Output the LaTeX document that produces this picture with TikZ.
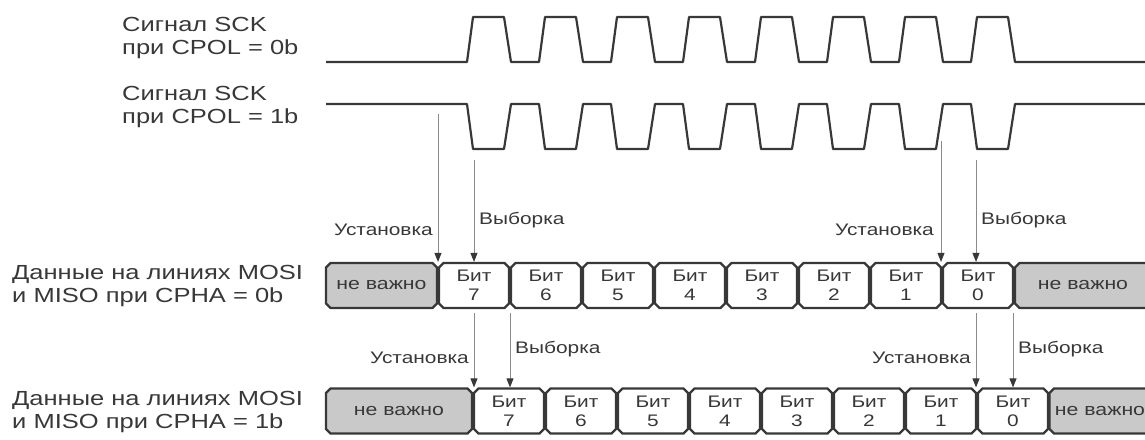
\documentclass[tikz,border=0pt]{standalone}
\usepackage{fontspec}
\setmainfont{Liberation Sans}[FakeStretch=1.25]
\usetikzlibrary{arrows.meta,shapes.misc}

\definecolor{ink}{HTML}{383838}
\definecolor{wire}{HTML}{8A8A8A}
\definecolor{dontcare}{HTML}{C9C9C9}

\begin{document}
\begin{tikzpicture}[
  x=1pt, y=-1pt,
  every node/.style={text=ink},
  signal/.style={draw=ink, line width=2.2pt, line join=round},
  caption/.style={
    align=left,
    anchor=west,
    inner sep=0pt,
    font=\fontsize{20.4}{22.5}\selectfont
  },
  tag/.style={inner sep=0pt, font=\fontsize{16.7}{19}\selectfont},
  bitcell/.style={
    chamfered rectangle,
    chamfered rectangle xsep=1.5pt,
    chamfered rectangle ysep=3pt,
    draw=ink,
    line width=2.2pt,
    fill=white,
    align=center,
    inner sep=0pt,
    minimum width=70pt,
    minimum height=45pt,
    font=\fontsize{16.7}{19}\selectfont
  },
  skipcell/.style={bitcell, fill=dontcare, font=\fontsize{17}{19}\selectfont},
  arrow/.style={draw=wire, line width=0.9pt, -{Triangle[width=7pt, length=9pt, color=ink]}}
]
\useasboundingbox (0,0) rectangle (1145,439);

% captions
\node[caption] (cpol0) at (122,38) {Сигнал SCK\\при CPOL = 0b};
\node[caption] (cpol1) at (122,107) {Сигнал SCK\\при CPOL = 1b};
\node[caption] (cpha0) at (12,286) {Данные на линиях MOSI\\и MISO при CPHA = 0b};
\node[caption] (cpha1) at (12,412) {Данные на линиях MOSI\\и MISO при CPHA = 1b};

% SCK waveforms
\draw[signal] (326,62) -- (467,62)
  -- ++(6,-45) -- ++(31,0) -- ++(7,45) -- ++(28,0)
  -- ++(6,-45) -- ++(31,0) -- ++(7,45) -- ++(28,0)
  -- ++(6,-45) -- ++(31,0) -- ++(7,45) -- ++(28,0)
  -- ++(6,-45) -- ++(31,0) -- ++(7,45) -- ++(28,0)
  -- ++(6,-45) -- ++(31,0) -- ++(7,45) -- ++(28,0)
  -- ++(6,-45) -- ++(31,0) -- ++(7,45) -- ++(28,0)
  -- ++(6,-45) -- ++(31,0) -- ++(7,45) -- ++(28,0)
  -- ++(6,-45) -- ++(31,0) -- ++(7,45) -- (1150,62);
\draw[signal] (326,104) -- (467,104)
  -- ++(6,45) -- ++(31,0) -- ++(7,-45) -- ++(28,0)
  -- ++(6,45) -- ++(31,0) -- ++(7,-45) -- ++(28,0)
  -- ++(6,45) -- ++(31,0) -- ++(7,-45) -- ++(28,0)
  -- ++(6,45) -- ++(31,0) -- ++(7,-45) -- ++(28,0)
  -- ++(6,45) -- ++(31,0) -- ++(7,-45) -- ++(28,0)
  -- ++(6,45) -- ++(31,0) -- ++(7,-45) -- ++(28,0)
  -- ++(6,45) -- ++(31,0) -- ++(7,-45) -- ++(28,0)
  -- ++(6,45) -- ++(31,0) -- ++(7,-45) -- (1150,104);

% data, CPHA = 0b
\node[skipcell, minimum width=111pt] (r1x) at (381.5,285.5) {не важно};
\node[bitcell] (r1b7) at (474,285.5) {Бит\\7};
\node[bitcell] (r1b6) at (546,285.5) {Бит\\6};
\node[bitcell] (r1b5) at (618,285.5) {Бит\\5};
\node[bitcell] (r1b4) at (690,285.5) {Бит\\4};
\node[bitcell] (r1b3) at (762,285.5) {Бит\\3};
\node[bitcell] (r1b2) at (834,285.5) {Бит\\2};
\node[bitcell] (r1b1) at (906,285.5) {Бит\\1};
\node[bitcell] (r1b0) at (978,285.5) {Бит\\0};
\node[skipcell, minimum width=136pt] (r1y) at (1083,285.5) {не важно};

% data, CPHA = 1b
\node[skipcell, minimum width=146pt] (r2x) at (399,411) {не важно};
\node[bitcell] (r2b7) at (509,411) {Бит\\7};
\node[bitcell] (r2b6) at (581,411) {Бит\\6};
\node[bitcell] (r2b5) at (653,411) {Бит\\5};
\node[bitcell] (r2b4) at (725,411) {Бит\\4};
\node[bitcell] (r2b3) at (797,411) {Бит\\3};
\node[bitcell] (r2b2) at (869,411) {Бит\\2};
\node[bitcell] (r2b1) at (941,411) {Бит\\1};
\node[bitcell] (r2b0) at (1013,411) {Бит\\0};
\node[skipcell, minimum width=101pt] (r2y) at (1100,411) {не важно};

% edges
\coordinate (setA) at (438,114);
\coordinate (smpA) at (474,160);
\coordinate (setB) at (941,141);
\coordinate (smpB) at (976,160);
\coordinate (setC) at (474,313);
\coordinate (smpC) at (510,313);
\coordinate (setD) at (976,313);
\coordinate (smpD) at (1013,313);

\draw[arrow] (setA) -- (setA |- r1b7.north);
\draw[arrow] (smpA) -- (smpA |- r1b7.north);
\draw[arrow] (setB) -- (setB |- r1b0.north);
\draw[arrow] (smpB) -- (smpB |- r1b0.north);
\draw[arrow] (setC) -- (setC |- r2b7.north);
\draw[arrow] (smpC) -- (smpC |- r2b7.north);
\draw[arrow] (setD) -- (setD |- r2b0.north);
\draw[arrow] (smpD) -- (smpD |- r2b0.north);

\node[tag, anchor=base east] (tsetA) at (433,235) {Установка};
\node[tag, anchor=base west] (tsmpA) at (479,224) {Выборка};
\node[tag, anchor=base east] (tsetB) at (934,235) {Установка};
\node[tag, anchor=base west] (tsmpB) at (981,224) {Выборка};
\node[tag, anchor=base east] (tsetC) at (469,363) {Установка};
\node[tag, anchor=base west] (tsmpC) at (515,353) {Выборка};
\node[tag, anchor=base east] (tsetD) at (971,363) {Установка};
\node[tag, anchor=base west] (tsmpD) at (1018,353) {Выборка};

\end{tikzpicture}
\end{document}
